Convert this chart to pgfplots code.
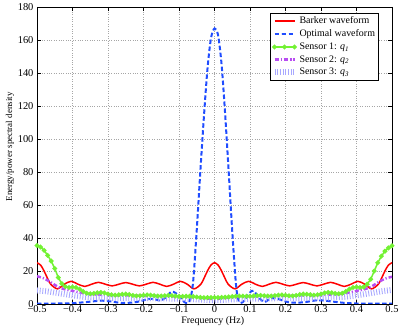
\documentclass[border=0pt]{standalone}
\usepackage{pgfplots}
\pgfplotsset{compat=1.18}
\usepackage{fontspec}
\setmainfont{Liberation Serif}
\definecolor{cred}{rgb}{1,0,0}
\definecolor{cblue}{rgb}{0.12,0.3,1}
\definecolor{cgreen}{rgb}{0.45,0.95,0.2}
\definecolor{cpurple}{rgb}{0.72,0.3,0.95}
\definecolor{clav}{rgb}{0.66,0.66,1}
\begin{document}
\begin{tikzpicture}
\useasboundingbox (-37bp,-23bp) rectangle (372bp,304bp);
\begin{axis}[
  at={(0,0)}, anchor=south west,
  scale only axis, width=355bp, height=297bp,
  xmin=-0.5, xmax=0.5, ymin=0, ymax=180,
  xtick={-0.5,-0.4,-0.3,-0.2,-0.1,0,0.1,0.2,0.3,0.4,0.5},
  xticklabels={−0.5,−0.4,−0.3,−0.2,−0.1,0,0.1,0.2,0.3,0.4,0.5},
  ytick={0,20,40,60,80,100,120,140,160,180},
  /pgf/number format/assume math mode=true,
  tick label style={font=\fontsize{10.5}{11}\selectfont},
  xticklabel style={yshift=1.5bp},
  major tick length=4bp,
  tick style={black, line width=0.5bp},
  axis line style={black, line width=0.6bp},
  grid=major,
  major grid style={dotted, line width=0.5bp, color=gray!70},
  xlabel={Frequency (Hz)},
  ylabel={Energy/power spectral density},
  every axis x label/.style={at={(axis description cs:0.495,-0.057)}, anchor=center, font=\fontsize{10}{11}\selectfont},
  every axis y label/.style={at={(axis description cs:-0.076,0.529)}, anchor=center, rotate=90, font=\fontsize{9}{11}\selectfont},
  legend style={at={(axis description cs:0.963,0.980)}, anchor=north east,
    font=\fontsize{10}{12}\selectfont, draw=black, line width=0.7bp, fill=white,
    inner sep=1.5bp, row sep=0.6bp, cells={anchor=west}},
  legend image code/.code={\draw[#1] plot coordinates {(0bp,0bp) (10bp,0bp) (20bp,0bp)};},
]
% Barker waveform
\addplot[cred, line width=1.5bp, smooth] coordinates {
(-0.5,25) (-0.49,23.61) (-0.48077,20.30) (-0.47115,15.93) (-0.46154,12) (-0.44231,9.18)
(-0.42308,12) (-0.40385,13.76) (-0.38462,12) (-0.36538,10.66) (-0.34615,12) (-0.32692,13.13)
(-0.30769,12) (-0.28846,10.97) (-0.26923,12) (-0.25,13) (-0.23077,12) (-0.21154,10.97)
(-0.19231,12) (-0.17308,13.13) (-0.15385,12) (-0.13462,10.66) (-0.11538,12) (-0.09615,13.76)
(-0.07692,12) (-0.05769,9.18) (-0.03846,12) (-0.02885,15.93) (-0.01923,20.30) (-0.01,23.61)
(0,25)
(0.01,23.61) (0.01923,20.30) (0.02885,15.93) (0.03846,12) (0.05769,9.18) (0.07692,12)
(0.09615,13.76) (0.11538,12) (0.13462,10.66) (0.15385,12) (0.17308,13.13) (0.19231,12)
(0.21154,10.97) (0.23077,12) (0.25,13) (0.26923,12) (0.28846,10.97) (0.30769,12)
(0.32692,13.13) (0.34615,12) (0.36538,10.66) (0.38462,12) (0.40385,13.76) (0.42308,12)
(0.44231,9.18) (0.46154,12) (0.47115,15.93) (0.48077,20.30) (0.49,23.61) (0.5,25)
};
\addlegendentry{Barker waveform}
% Optimal waveform
\addplot[cblue, line width=2bp, dash pattern=on 4.5bp off 2.5bp, smooth] coordinates {
(-0.5,0.2) (-0.45,0.3) (-0.4,0.5) (-0.36,1.2) (-0.32,2.0) (-0.29,1.5) (-0.26,0.6)
(-0.22,1.2) (-0.18,3.2) (-0.155,2.2) (-0.14,3.5) (-0.12,7.5) (-0.10,5) (-0.085,1.2)
(-0.075,0.6) (-0.068,3) (-0.06,14) (-0.05,45) (-0.04,80) (-0.03,113) (-0.02,142)
(-0.01,161) (0,167) (0.01,163) (0.02,145) (0.03,115) (0.04,80) (0.05,44) (0.06,13)
(0.066,3.5) (0.073,0.6) (0.085,2.2) (0.1,7) (0.11,8) (0.125,4) (0.14,1.2) (0.16,3.5)
(0.18,3) (0.21,1) (0.25,1) (0.29,2.3) (0.32,1.8) (0.36,0.8) (0.4,0.3) (0.45,0.2) (0.5,0.2)
};
\addlegendentry{Optimal waveform}
% Sensor 1
\addplot[cgreen, line width=1.5bp, mark=*, mark size=1.6bp, mark options={solid, fill=cgreen, draw=cgreen}] coordinates {
(-0.50,35.5) (-0.49,34.5) (-0.48,32.5) (-0.47,29.5) (-0.46,26) (-0.45,21.5) (-0.44,16)
(-0.43,12.3) (-0.42,10.5) (-0.41,10.0) (-0.40,10.3) (-0.39,10.0) (-0.38,9.0) (-0.37,7.6)
(-0.36,6.5) (-0.35,6.2) (-0.34,6.4) (-0.33,6.8) (-0.32,7.0) (-0.31,6.7) (-0.30,6.1)
(-0.29,5.6) (-0.28,5.4) (-0.27,5.6) (-0.26,5.9) (-0.25,6.0) (-0.24,5.7) (-0.23,5.2)
(-0.22,4.9) (-0.21,5.0) (-0.20,5.3) (-0.19,5.5) (-0.18,5.4) (-0.17,5.1) (-0.16,4.8)
(-0.15,4.8) (-0.14,5.0) (-0.13,5.2) (-0.12,5.1) (-0.11,4.8) (-0.10,4.6) (-0.09,4.6)
(-0.08,4.7) (-0.07,4.7) (-0.06,4.5) (-0.05,4.2) (-0.04,4.0) (-0.03,3.9) (-0.02,3.9)
(-0.01,3.9) (0.00,3.9)
(0.01,3.9) (0.02,4.0) (0.03,4.1) (0.04,4.3) (0.05,4.5) (0.06,4.7) (0.07,4.8) (0.08,4.8)
(0.09,4.7) (0.10,4.7) (0.11,4.9) (0.12,5.1) (0.13,5.2) (0.14,5.0) (0.15,4.8) (0.16,4.8)
(0.17,5.1) (0.18,5.4) (0.19,5.5) (0.20,5.3) (0.21,5.0) (0.22,4.9) (0.23,5.2) (0.24,5.7)
(0.25,6.0) (0.26,5.9) (0.27,5.6) (0.28,5.4) (0.29,5.6) (0.30,6.1) (0.31,6.7) (0.32,7.0)
(0.33,6.8) (0.34,6.4) (0.35,6.2) (0.36,6.5) (0.37,7.6) (0.38,9.0) (0.39,10.0) (0.40,10.3)
(0.41,10.0) (0.42,10.3) (0.43,12) (0.44,15) (0.45,20) (0.46,25) (0.47,29) (0.48,32)
(0.49,34) (0.50,35.3)
};
\addlegendentry{Sensor 1: \textit{q}\textsubscript{\textit{1}}}
% Sensor 2
\addplot[cpurple, line width=2.5bp, dash pattern=on 4bp off 2bp on 1.2bp off 2bp, smooth] coordinates {
(-0.50,16.8) (-0.48,15.5) (-0.46,13.0) (-0.44,10.3) (-0.42,8.8) (-0.40,8.0) (-0.38,7.0)
(-0.36,6.2) (-0.34,5.8) (-0.32,5.6) (-0.30,5.4) (-0.25,5.2) (-0.20,5.0) (-0.15,4.8)
(-0.10,4.6) (-0.06,4.2) (-0.03,3.6) (0,3.0) (0.03,3.6) (0.06,4.2) (0.10,4.6) (0.15,4.8)
(0.20,5.0) (0.25,5.2) (0.30,5.4) (0.32,5.6) (0.34,5.8) (0.36,6.2) (0.38,7.0) (0.40,8.0)
(0.42,8.8) (0.44,10.3) (0.46,13.0) (0.48,15.3) (0.50,16.5)
};
\addlegendentry{Sensor 2: \textit{q}\textsubscript{\textit{2}}}
% Sensor 3
\addplot[clav, line width=6bp, dash pattern=on 0.9bp off 1.8bp, smooth] coordinates {
(-0.50,8.2) (-0.47,7.6) (-0.44,6.6) (-0.41,5.6) (-0.38,4.7) (-0.35,4.1) (-0.30,3.8)
(-0.25,3.7) (-0.20,3.6) (-0.15,3.4) (-0.10,3.2) (-0.05,2.8) (0,2.3) (0.05,2.8) (0.10,3.2)
(0.15,3.4) (0.20,3.6) (0.25,3.7) (0.30,3.8) (0.35,4.1) (0.38,4.7) (0.41,5.6) (0.44,6.6)
(0.47,7.7) (0.50,8.5)
};
\addlegendentry{Sensor 3: \textit{q}\textsubscript{\textit{3}}}
\end{axis}
\end{tikzpicture}
\end{document}
